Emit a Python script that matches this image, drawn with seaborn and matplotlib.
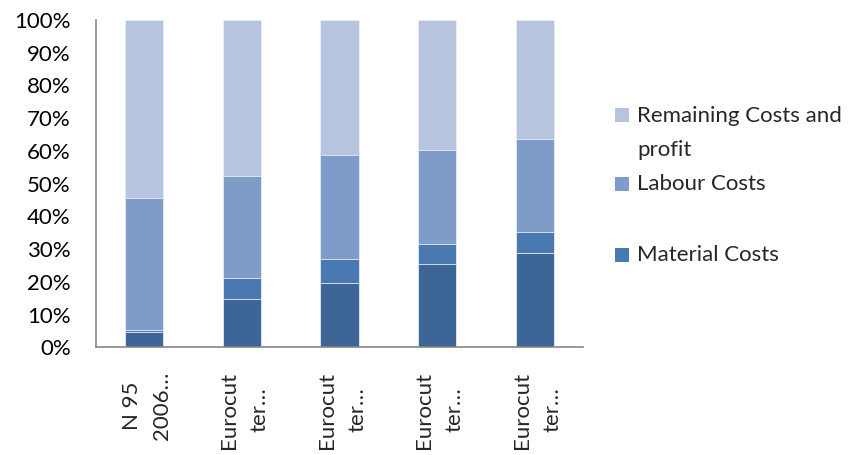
import matplotlib
matplotlib.use("Agg")
import matplotlib.pyplot as plt
from matplotlib.patches import Rectangle
import seaborn as sns
import pandas as pd
import numpy as np

# Cost shares per product (percent of price), bottom to top of each stack
categories = ["N 95\n2006…", "Eurocut\nter…", "Eurocut\nter…", "Eurocut\nter…", "Eurocut\nter…"]
base_share = [4.6, 14.7, 19.6, 25.4, 28.7]
material_costs = [0.7, 6.5, 7.3, 6.3, 6.6]
labour_costs = [40.3, 31.2, 32.0, 28.7, 28.4]
remaining_costs = [54.4, 47.6, 41.1, 39.6, 36.3]

series_names = ["", "Material Costs", "Labour Costs", "Remaining Costs and\nprofit"]
colors = ["#3D6596", "#4A78B0", "#7F9CC8", "#B6C4DD"]
y_ticks = [0, 10, 20, 30, 40, 50, 60, 70, 80, 90, 100]

sns.set_style("white")
plt.rcParams["font.family"] = ["Lato", "DejaVu Sans"]
FS = 16

layers = [base_share, material_costs, labour_costs, remaining_costs]
cum = np.cumsum(np.array(layers, dtype=float), axis=0)
df = pd.DataFrame({"idx": list(range(len(categories)))})

fig = plt.figure(figsize=(8.65, 4.55), dpi=100)
ax = fig.add_axes([0.1106, 0.2367, 0.5638, 0.7193])

# Stacked bars: draw cumulative totals from the top layer down
for k in range(len(layers) - 1, -1, -1):
    d = df.copy()
    d["val"] = cum[k]
    sns.barplot(data=d, x="idx", y="val", color=colors[k], width=0.39,
                saturation=1, edgecolor="#E8EEF7", linewidth=0.6, ax=ax)

ax.set_ylim(0, 100)
ax.set_xlim(-0.5, len(categories) - 0.5)
ax.set_yticks(y_ticks)
ax.set_yticklabels([f"{v}%" for v in y_ticks], fontsize=FS, color="#000000")
ax.set_xticks(range(len(categories)))
ax.set_xticklabels([])
ax.set_xticks(np.arange(-0.5, len(categories)), minor=True)
ax.tick_params(axis="x", which="major", length=0)
ax.tick_params(axis="x", which="minor", length=6, width=1.2, color="#868686", direction="out")
ax.tick_params(axis="y", length=6, width=1.2, color="#868686", direction="out", pad=12)
ax.set_xlabel("")
ax.set_ylabel("")
for side in ["top", "right"]:
    ax.spines[side].set_visible(False)
for side in ["left", "bottom"]:
    ax.spines[side].set_color("#868686")
    ax.spines[side].set_linewidth(1.2)

# Rotated category labels below the axis
for i, lab in enumerate(categories):
    ax.text(i + 0.025, -0.074, lab, transform=ax.get_xaxis_transform(),
            rotation=90, ha="center", va="top", multialignment="center",
            fontsize=FS, linespacing=1.65)

# Legend on the right
W, H = 865, 455
legend_rows = [(3, 115), (2, 184), (1, 255)]
for k, yc in legend_rows:
    fig.patches.append(Rectangle((615 / W, 1 - (yc + 7) / H), 14 / W, 14 / H,
                                 transform=fig.transFigure, facecolor=colors[k],
                                 edgecolor="none"))
    multi = "\n" in series_names[k]
    fig.text(637 / W, 1 - (yc - 9 if multi else yc) / H, series_names[k],
             ha="left", va="top" if multi else "center",
             fontsize=FS, linespacing=1.85)

fig.savefig("out.png", dpi=100)
